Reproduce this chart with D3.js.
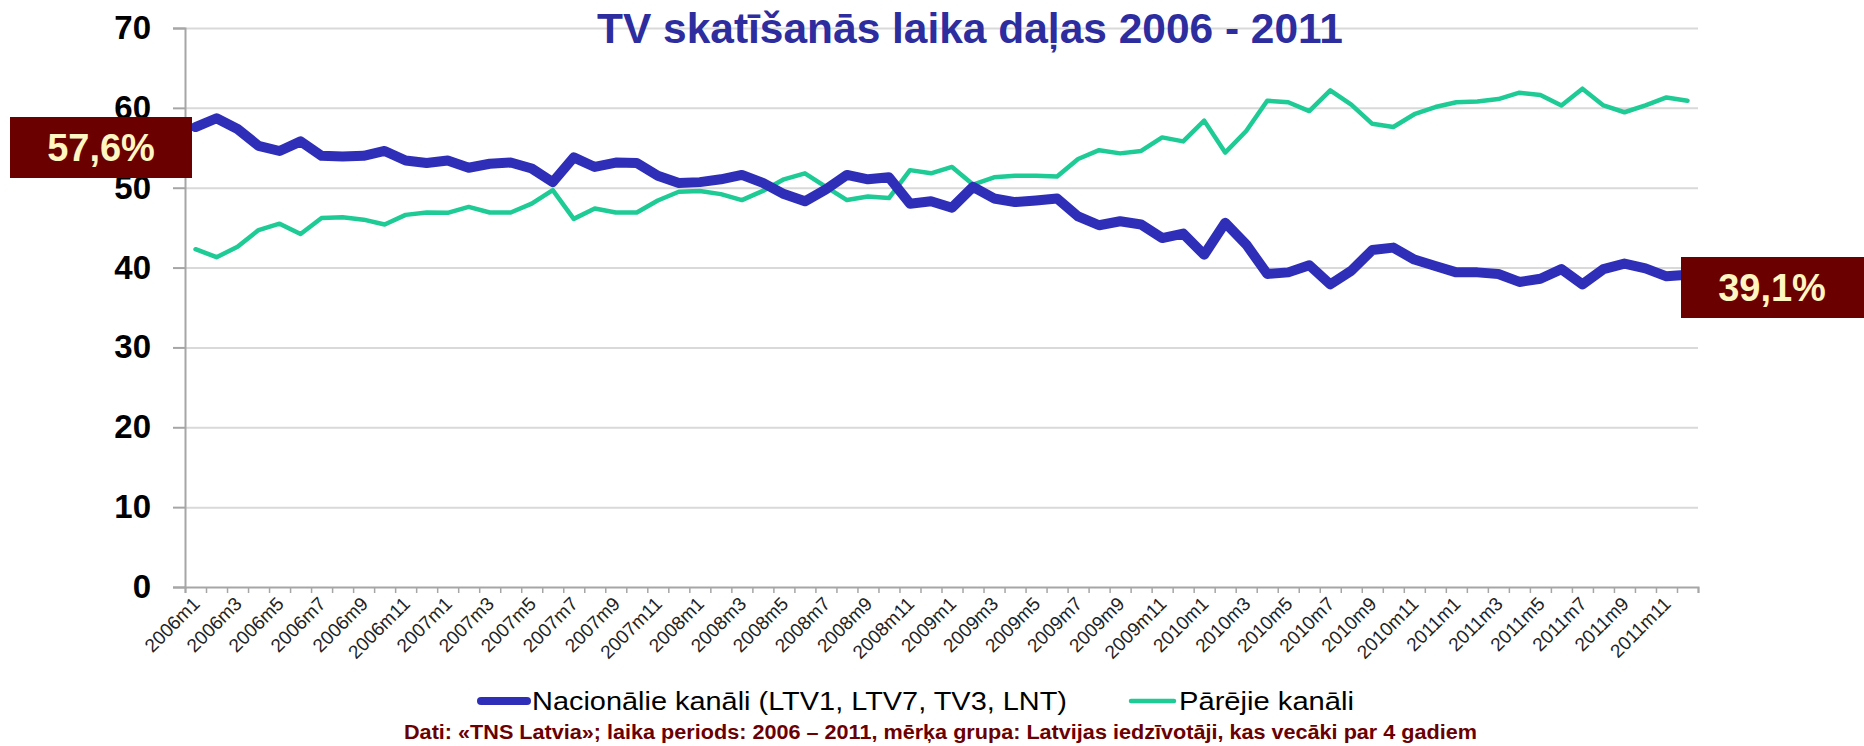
<!DOCTYPE html>
<html><head><meta charset="utf-8">
<script src="https://cdn.jsdelivr.net/npm/d3@7"></script>
<style>
html,body{margin:0;padding:0;background:#fff;}
svg{display:block;font-family:"Liberation Sans",Arial,sans-serif;}
</style></head>
<body>
<svg id="chart" width="1864" height="746"></svg>
<script>
const years = [2006,2007,2008,2009,2010,2011];
const categories = years.flatMap(y => d3.range(1,13).map(m => y + "m" + m));
const national = [57.6,58.7,57.35,55.25,54.6,55.8,54.0,53.9,54.0,54.6,53.4,53.1,
  53.4,52.5,53.0,53.15,52.4,50.7,53.8,52.6,53.15,53.1,51.5,50.6,
  50.7,51.05,51.6,50.6,49.2,48.3,49.8,51.6,51.05,51.3,48.0,48.3,
  47.5,50.1,48.65,48.2,48.4,48.65,46.4,45.3,45.8,45.4,43.7,44.25,
  41.6,45.6,42.9,39.2,39.4,40.3,37.9,39.6,42.2,42.5,41.0,40.2,
  39.4,39.4,39.2,38.2,38.6,39.8,37.9,39.8,40.5,39.9,38.9,39.1];
const others = [42.3,41.3,42.6,44.7,45.5,44.2,46.2,46.3,46.0,45.4,46.6,46.9,
  46.85,47.6,46.9,46.9,48.0,49.7,46.1,47.4,46.9,46.9,48.4,49.5,
  49.6,49.2,48.45,49.6,51.05,51.8,50.1,48.45,48.9,48.7,52.2,51.8,
  52.6,50.4,51.3,51.5,51.5,51.4,53.6,54.7,54.3,54.6,56.3,55.8,
  58.4,54.4,57.1,60.9,60.7,59.6,62.2,60.4,58.0,57.6,59.2,60.1,
  60.7,60.8,61.1,61.9,61.6,60.3,62.4,60.3,59.45,60.3,61.3,60.9];
const yTicks = [0,10,20,30,40,50,60,70];
const seriesNames = ["Nacionālie kanāli (LTV1, LTV7, TV3, LNT)", "Pārējie kanāli"];
const startLabel = "57,6%";
const endLabel = "39,1%";
const titleText = "TV skatīšanās laika daļas 2006 - 2011";
const sourceText = "Dati: «TNS Latvia»; laika periods: 2006 – 2011, mērķa grupa: Latvijas iedzīvotāji, kas vecāki par 4 gadiem";

const svg = d3.select("#chart");
const L = 185, R = 1698, T = 28, B = 587;
const x = d3.scaleBand().domain(categories).range([L, R]).padding(0);
const xc = c => x(c) + x.bandwidth()/2;
const y = d3.scaleLinear().domain([0,70]).range([B, T]);

// gridlines
svg.append("g").attr("transform", `translate(${L},0)`)
  .call(d3.axisLeft(y).tickValues(yTicks.filter(d=>d>0)).tickSize(-(R-L)).tickFormat(""))
  .call(g => g.select(".domain").remove())
  .call(g => g.selectAll("line").attr("stroke","#d9d9d9").attr("stroke-width",2));

// y axis
svg.append("g").attr("transform", `translate(${L},0)`)
  .call(d3.axisLeft(y).tickValues(yTicks).tickSize(12).tickPadding(22))
  .call(g => g.select(".domain").attr("stroke","#a6a6a6").attr("stroke-width",2))
  .call(g => g.selectAll("line").attr("stroke","#a6a6a6").attr("stroke-width",2))
  .call(g => g.selectAll("text").attr("font-size",33).attr("font-weight","bold")
     .attr("fill","#000").attr("font-family","'Liberation Sans',Arial,sans-serif"));

// title
svg.append("text").attr("x", 970).attr("y", 43).attr("text-anchor","middle")
  .attr("font-size", 42).attr("font-weight","bold").attr("fill","#2d2da0")
  .attr("textLength", 746).attr("lengthAdjust","spacingAndGlyphs")
  .text(titleText);

// x axis tick marks at band boundaries
const xb = d3.scaleLinear().domain([0, categories.length]).range([L, R]);
svg.append("g").attr("transform", `translate(0,${B})`)
  .call(d3.axisBottom(xb).tickValues(d3.range(0, categories.length+1)).tickSize(6).tickFormat(""))
  .call(g => g.select(".domain").attr("stroke","#a6a6a6").attr("stroke-width",2))
  .call(g => g.selectAll("line").attr("stroke","#a6a6a6").attr("stroke-width",1.5));

// x labels
const xp = d3.scalePoint().domain(categories).range([xc(categories[0]), xc(categories[categories.length-1])]);
svg.append("g").attr("transform", `translate(0,${B})`)
  .call(d3.axisBottom(xp).tickValues(categories.filter((d,i)=>i%2===0)).tickSize(0))
  .call(g => g.select(".domain").remove())
  .call(g => g.selectAll("text")
    .attr("font-size",19).attr("fill","#222").attr("font-family","'Liberation Sans',Arial,sans-serif")
    .attr("text-anchor","end").attr("dy",0).attr("y",0)
    .attr("transform","translate(5,18) rotate(-45)"));

// lines
const line = d3.line().x((d,i)=>xc(categories[i])).y(d=>y(d)).curve(d3.curveLinear);
svg.append("path").datum(others).attr("d", line).attr("fill","none")
  .attr("stroke","#1ecb95").attr("stroke-width",4.5).attr("stroke-linejoin","round").attr("stroke-linecap","round");
svg.append("path").datum(national).attr("d", line).attr("fill","none")
  .attr("stroke","#2e2eb8").attr("stroke-width",10).attr("stroke-linejoin","round").attr("stroke-linecap","round");

// value boxes
function box(x0, y0, w, h, cx, by, txt){
  svg.append("rect").attr("x",x0).attr("y",y0).attr("width",w).attr("height",h).attr("fill","#6b0000");
  svg.append("text").attr("x",cx).attr("y",by).attr("text-anchor","middle")
    .attr("font-size",38).attr("font-weight","bold").attr("fill","#fff6c2").text(txt);
}
box(10, 117, 182, 61, 101, 161, startLabel);
box(1681, 257, 183, 61, 1772, 301, endLabel);

// legend
const lg = svg.append("g");
lg.append("line").attr("x1",481).attr("x2",527).attr("y1",701).attr("y2",701)
  .attr("stroke","#2e2eb8").attr("stroke-width",8).attr("stroke-linecap","round");
lg.append("text").attr("x",532).attr("y",710).attr("font-size",26).attr("fill","#000")
  .attr("textLength",535).attr("lengthAdjust","spacingAndGlyphs").text(seriesNames[0]);
lg.append("line").attr("x1",1131).attr("x2",1174).attr("y1",701).attr("y2",701)
  .attr("stroke","#1ecb95").attr("stroke-width",4.5).attr("stroke-linecap","round");
lg.append("text").attr("x",1179).attr("y",710).attr("font-size",26).attr("fill","#000")
  .attr("textLength",175).attr("lengthAdjust","spacingAndGlyphs").text(seriesNames[1]);

// source
svg.append("text").attr("x",404).attr("y",739).attr("font-size",20).attr("font-weight","bold")
  .attr("fill","#6b0000").attr("textLength",1073).attr("lengthAdjust","spacingAndGlyphs").text(sourceText);
</script>
</body></html>
